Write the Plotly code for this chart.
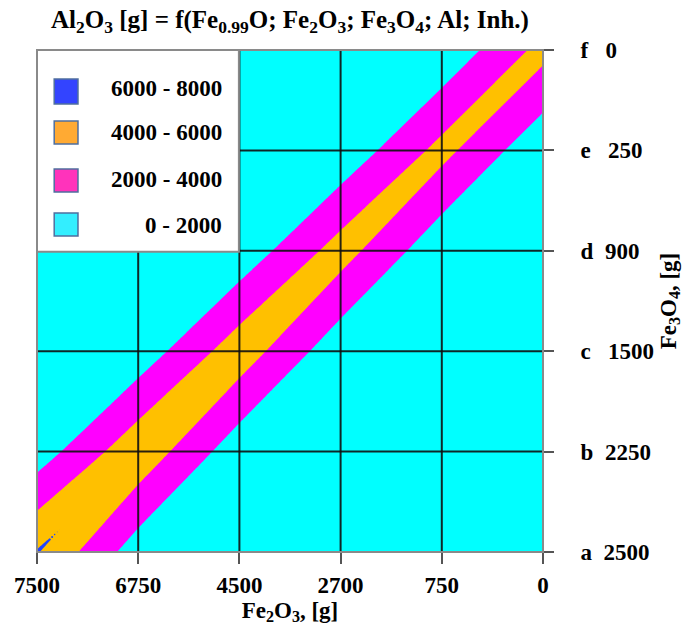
import numpy as np
import plotly.graph_objects as go

# ---------------- data ----------------
fe2o3_labels = ["7500", "6750", "4500", "2700", "750", "0"]          # x categories (left -> right)
fe3o4_letters = ["a", "b", "c", "d", "e", "f"]                       # y categories (bottom -> top)
fe3o4_labels = ["2500", "2250", "1500", "900", "250", "0"]

# Al2O3 [g] at each grid node, rows = Fe3O4 (a..f), columns = Fe2O3 (7500..0)
row_a = [6150, 900, 300, 200, 100, 0]
row_b = [900, 5500, 720, 300, 200, 100]
row_c = [300, 720, 5200, 600, 300, 200]
row_d = [200, 300, 600, 4900, 480, 300]
row_e = [100, 200, 300, 480, 4650, 400]
row_f = [0, 100, 200, 300, 400, 4650]

band_labels = ["6000 - 8000", "4000 - 6000", "2000 - 4000", "0 - 2000"]
band_fill = ["#2244FF", "#FFC000", "#FF00FF", "#00FFFF"]
legend_swatch = ["#3344FF", "#FFAA33", "#FF33BB", "#33EEFF"]

# ---------------- rendering helper: triangulated surface (as the contour view draws it) ----------------
Z = np.array([row_a, row_b, row_c, row_d, row_e, row_f], dtype=float)
n = len(fe2o3_labels) - 1
steps = 40
g = np.linspace(0, n, n * steps + 1)
U, V = np.meshgrid(g, g)
I = np.minimum(np.floor(U).astype(int), n - 1)
J = np.minimum(np.floor(V).astype(int), n - 1)
S = U - I
T = V - J
z00 = Z[J, I]
z10 = Z[J, I + 1]
z01 = Z[J + 1, I]
z11 = Z[J + 1, I + 1]
mesh = np.where(S >= T,
                z00 + S * (z10 - z00) + T * (z11 - z10),
                z00 + T * (z01 - z00) + S * (z11 - z01))

cs = [[0.0, band_fill[3]], [0.25, band_fill[3]],
      [0.25, band_fill[2]], [0.5, band_fill[2]],
      [0.5, band_fill[1]], [0.75, band_fill[1]],
      [0.75, band_fill[0]], [1.0, band_fill[0]]]

fig = go.Figure()
fig.add_trace(go.Contour(
    x=g, y=g, z=mesh,
    zmin=0, zmax=8000,
    contours=dict(start=2000, end=6000, size=2000, coloring="fill", showlines=False),
    line=dict(width=0),
    colorscale=cs, showscale=False, hoverinfo="skip",
))

FONT = "Liberation Serif"

shapes = []
# grid lines at every category position
for k in range(n + 1):
    shapes.append(dict(type="line", xref="x", yref="y", x0=k, x1=k, y0=0, y1=n,
                       line=dict(color="rgba(15,15,15,0.9)", width=2), layer="above"))
    shapes.append(dict(type="line", xref="x", yref="y", x0=0, x1=n, y0=k, y1=k,
                       line=dict(color="rgba(15,15,15,0.9)", width=2), layer="above"))
# outer frame (gray)
shapes.append(dict(type="rect", xref="paper", yref="paper", x0=0, x1=1, y0=0, y1=1,
                   line=dict(color="#8a8a8a", width=2), layer="above"))

# legend box (covers the upper-left 2x2 cells)
shapes.append(dict(type="rect", xref="paper", yref="paper", x0=0, x1=0.399, y0=0.598, y1=1.0,
                   fillcolor="white", line=dict(color="#8a8a8a", width=2), layer="above"))
sw_y = [(0.8924, 0.9422), (0.8127, 0.8586), (0.7171, 0.7629), (0.6295, 0.6753)]
lab_y = [0.924, 0.835, 0.743, 0.651]
annotations = []
for col, (y0, y1), ly, txt in zip(legend_swatch, sw_y, lab_y, band_labels):
    shapes.append(dict(type="rect", xref="paper", yref="paper", x0=0.034, x1=0.081, y0=y0, y1=y1,
                       fillcolor=col, line=dict(color="#4F6F9F", width=1.5), layer="above"))
    annotations.append(dict(xref="paper", yref="paper", x=0.3696, y=ly, xanchor="right", yanchor="middle",
                            text=f"<b>{txt}</b>", showarrow=False,
                            font=dict(family=FONT, size=23, color="black")))

y_ticktext = []
for lt, lb in zip(fe3o4_letters, fe3o4_labels):
    gap = "\u00a0\u00a0\u00a0" if lt in ("f", "e", "c") else "\u00a0\u00a0"
    y_ticktext.append(f"{lt}{gap}{lb}")

fig.update_layout(
    width=687, height=628,
    margin=dict(l=37, r=144, t=50, b=76, autoexpand=False),
    paper_bgcolor="white", plot_bgcolor="white",
    showlegend=False,
    title=dict(text="<b>Al<sub>2</sub>O<sub>3</sub> [g] = f(Fe<sub>0.99</sub>O; Fe<sub>2</sub>O<sub>3</sub>; "
                    "Fe<sub>3</sub>O<sub>4</sub>; Al; Inh.)</b>",
               x=0.5, xref="paper", xanchor="center", y=1 - 19 / 628, yref="container", yanchor="middle",
               font=dict(family=FONT, size=25, color="black")),
    xaxis=dict(range=[0, n], tickmode="array", tickvals=list(range(n + 1)), ticktext=fe2o3_labels,
               showgrid=False, zeroline=False, ticks="outside", ticklen=11, tickwidth=2,
               tickcolor="#555555", ticklabelstandoff=1, automargin=False,
               tickfont=dict(family=FONT, size=23, color="black", weight="bold"),
               title=dict(text="<b>Fe<sub>2</sub>O<sub>3</sub>, [g]</b>", standoff=0,
                          font=dict(family=FONT, size=23, color="black"))),
    yaxis=dict(range=[0, n], side="right", tickmode="array", tickvals=list(range(n + 1)),
               ticktext=y_ticktext, showgrid=False, zeroline=False, ticks="outside", ticklen=10,
               tickwidth=2, tickcolor="#555555", ticklabelstandoff=22, automargin=False,
               tickfont=dict(family=FONT, size=23, color="black", weight="bold"),
               title=dict(text="<b>Fe<sub>3</sub>O<sub>4</sub>, [g]</b>", standoff=6,
                          font=dict(family=FONT, size=23, color="black"))),
    shapes=shapes,
    annotations=annotations,
)

fig.write_html("out.html", config={"displayModeBar": False},
               post_script="document.body.style.margin='0';document.body.style.overflow='hidden';")
